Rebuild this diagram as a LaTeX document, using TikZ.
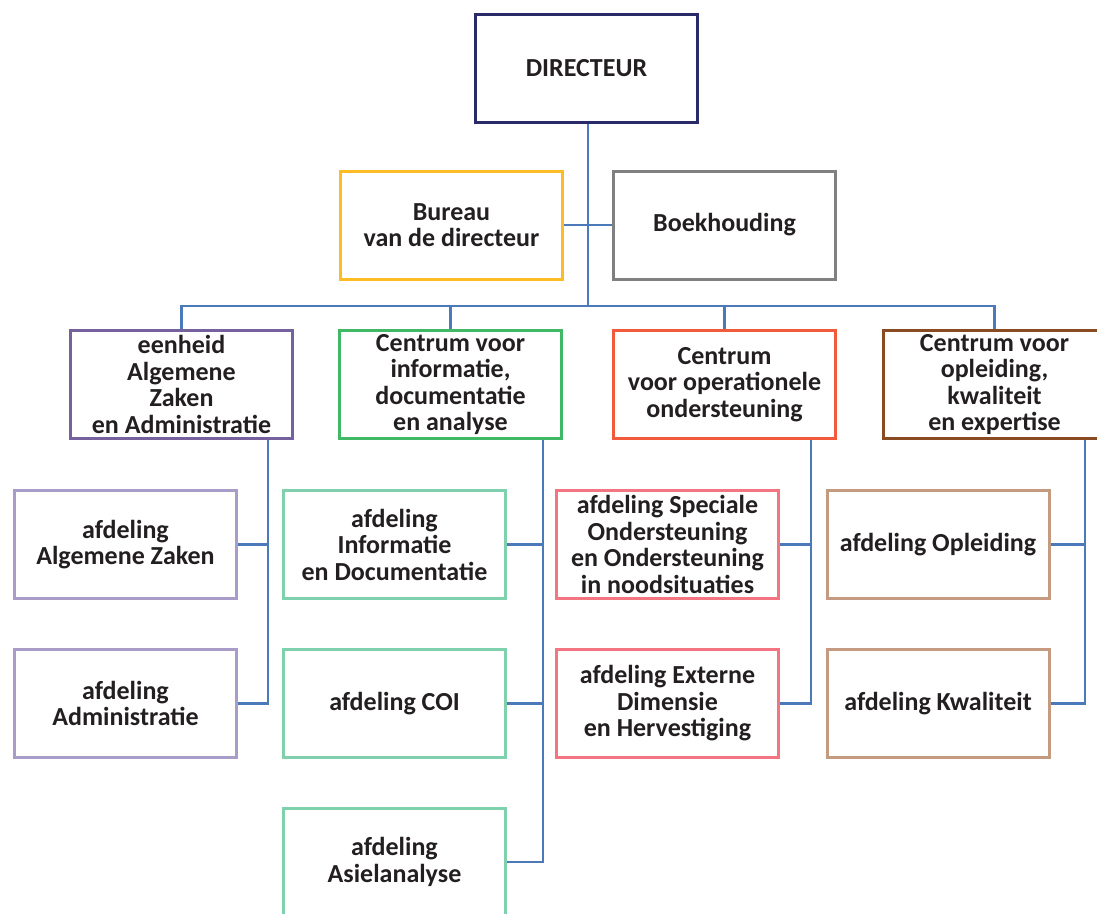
\documentclass[tikz,border=0pt]{standalone}
\usepackage{fontspec}
\setmainfont{Carlito}
\definecolor{dircol}{HTML}{2B2A68}
\definecolor{burcol}{HTML}{FDBB24}
\definecolor{boekcol}{HTML}{808080}
\definecolor{eenhcol}{HTML}{76619F}
\definecolor{infocol}{HTML}{41B866}
\definecolor{opercol}{HTML}{F15A3B}
\definecolor{oplcol}{HTML}{8B4B22}
\definecolor{azcol}{HTML}{A99CC8}
\definecolor{aidcol}{HTML}{7FD1AE}
\definecolor{speccol}{HTML}{F27581}
\definecolor{aoplcol}{HTML}{C49A80}
\definecolor{linkcol}{HTML}{4C79BA}
\definecolor{txtcol}{HTML}{231F20}
\tikzset{
  box/.style={draw, line width=3pt, minimum width=222pt, minimum height=108pt,
    inner sep=2pt, align=center, text=txtcol,
    font=\fontsize{26}{26.5}\selectfont\bfseries},
  link/.style={draw=linkcol, line width=2.5pt},
}
\begin{document}
\begin{tikzpicture}[x=1pt,y=-1pt]
\useasboundingbox (0,0) rectangle (1097,913);
\path (586.5,68.5) node[box,draw=dircol] (dir) {DIRECTEUR}
  (451.5,225) node[box,draw=burcol] (bur) {Bureau\\van de directeur}
  (724.5,225) node[box,draw=boekcol] (boek) {Boekhouding}
  (181.5,384.5) node[box,draw=eenhcol] (eenh) {eenheid\\Algemene\\Zaken\\en Administratie}
  (450.5,384.5) node[box,draw=infocol] (info) {Centrum voor\\informatie,\\documentatie\\en analyse}
  (724.5,384.5) node[box,draw=opercol] (oper) {Centrum\\voor operationele\\ondersteuning}
  (994.5,384.5) node[box,draw=oplcol] (oplc) {Centrum voor\\opleiding,\\kwaliteit\\en expertise};

\path (125.5,544.5) node[box,draw=azcol] (az) {afdeling\\Algemene Zaken}
  (125.5,703.5) node[box,draw=azcol] (adm) {afdeling\\Administratie}
  (394.5,544.5) node[box,draw=aidcol] (aid) {afdeling\\Informatie\\en Documentatie}
  (394.5,703.5) node[box,draw=aidcol] (coi) {afdeling COI}
  (394.5,862) node[box,draw=aidcol] (asl) {afdeling\\Asielanalyse}
  (667.5,544.5) node[box,draw=speccol] (spec) {afdeling Speciale\\Ondersteuning\\en Ondersteuning\\in noodsituaties}
  (667.5,703.5) node[box,draw=speccol] (ext) {afdeling Externe\\Dimensie\\en Hervestiging}
  (938,544.5) node[box,draw=aoplcol] (aopl) {afdeling Opleiding}
  (938,703.5) node[box,draw=aoplcol] (kwal) {afdeling Kwaliteit};

\coordinate (bus) at (588,306);
\coordinate (sp1) at (268,440);
\coordinate (sp2) at (543,440);
\coordinate (sp3) at (811,440);
\coordinate (sp4) at (1085,440);

\draw[link] (dir.south -| bus) -- (bus);
\draw[link] (bur.east) -- (boek.west);
\draw[link] (eenh.north) |- (bus) -| (oplc.north);
\draw[link] (info.north) -- (info.north |- bus);
\draw[link] (oper.north) -- (oper.north |- bus);

\draw[link] (az.east) -- (az.east -| sp1);
\draw[link] (sp1) |- (adm.east);
\draw[link] (aid.east) -- (aid.east -| sp2);
\draw[link] (coi.east) -- (coi.east -| sp2);
\draw[link] (sp2) |- (asl.east);
\draw[link] (spec.east) -- (spec.east -| sp3);
\draw[link] (sp3) |- (ext.east);
\draw[link] (aopl.east) -- (aopl.east -| sp4);
\draw[link] (sp4) |- (kwal.east);
\end{tikzpicture}
\end{document}
